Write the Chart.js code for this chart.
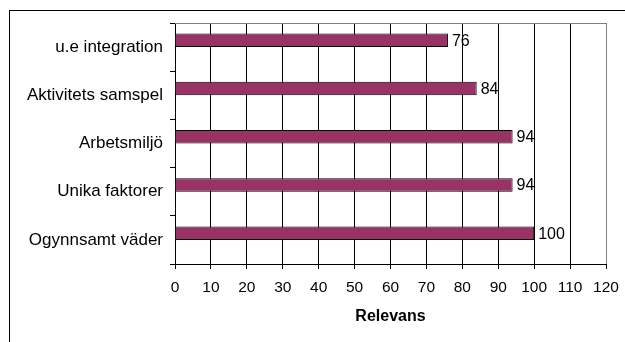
<!DOCTYPE html>
<html>
<head>
<meta charset="utf-8">
<script src="https://cdn.jsdelivr.net/npm/chart.js@4"></script>
<style>
  body { margin: 0; background: #fff; }
  #wrap { position: relative; width: 625px; height: 342px; overflow: hidden; }
  #frame { position: absolute; left: 9px; top: 10px; width: 700px; height: 400px;
           border-left: 1px solid #000; border-top: 1px solid #000; }
  canvas { position: absolute; left: 0; top: 0; }
</style>
</head>
<body>
<div id="wrap">
  <div id="frame"></div>
  <canvas id="relevansChart" width="625" height="342"></canvas>
</div>
<script>
const faktorer = ['u.e integration', 'Aktivitets samspel', 'Arbetsmiljö', 'Unika faktorer', 'Ogynnsamt väder'];
const relevans = [76, 84, 94, 94, 100];
const xTicks = [0, 10, 20, 30, 40, 50, 60, 70, 80, 90, 100, 110, 120];

const fontFamily = '"Liberation Sans", Arial, sans-serif';

// top edge of the plot area is grey, as in the original
const plotBorder = {
    id: 'plotBorder',
    afterDraw(chart) {
        const { ctx, chartArea } = chart;
        ctx.save();
        ctx.strokeStyle = '#808080';
        ctx.lineWidth = 1;
        ctx.beginPath();
        ctx.moveTo(chartArea.left, Math.round(chartArea.top) + 0.5);
        ctx.lineTo(chartArea.right, Math.round(chartArea.top) + 0.5);
        ctx.stroke();
        ctx.restore();
    }
};

const valueLabels = {
    id: 'valueLabels',
    afterDatasetsDraw(chart) {
        const ctx = chart.ctx;
        const meta = chart.getDatasetMeta(0);
        ctx.save();
        ctx.font = '16px ' + fontFamily;
        ctx.fillStyle = '#000';
        ctx.textAlign = 'left';
        ctx.textBaseline = 'middle';
        meta.data.forEach((bar, i) => {
            ctx.fillText(relevans[i], bar.x + 4, bar.y + 1);
        });
        ctx.restore();
    }
};

new Chart(document.getElementById('relevansChart').getContext('2d'), {
    type: 'bar',
    data: {
        labels: faktorer,
        datasets: [{
            label: 'Relevans',
            data: relevans,
            backgroundColor: '#993366',
            borderColor: '#000',
            borderWidth: 1,
            categoryPercentage: 0.56,
            barPercentage: 1
        }, {
            // empty second series, keeps the bars in the upper half of each row
            label: '',
            data: [],
            categoryPercentage: 0.56,
            barPercentage: 1
        }]
    },
    options: {
        indexAxis: 'y',
        responsive: false,
        animation: false,
        layout: { padding: { left: 0, top: 23, right: 19, bottom: 0 } },
        plugins: {
            legend: { display: false },
            tooltip: { enabled: false }
        },
        scales: {
            y: {
                afterFit(scale) { scale.width = 175; },
                ticks: { color: '#000', font: { family: fontFamily, size: 17 }, padding: 7 },
                grid: { drawOnChartArea: false, tickLength: 5, tickColor: '#000' },
                border: { color: '#000' }
            },
            x: {
                min: 0,
                max: 120,
                afterFit(scale) { scale.height = 78; scale.paddingRight = 19; },
                afterBuildTicks(scale) { scale.ticks = xTicks.map(v => ({ value: v })); },
                ticks: { color: '#000', font: { family: fontFamily, size: 15.5 }, padding: 9 },
                grid: {
                    color: c => (c.tick && c.tick.value === 120) ? '#808080' : '#000',
                    tickColor: '#000',
                    tickLength: 5
                },
                border: { color: '#000' },
                title: {
                    display: true,
                    text: 'Relevans',
                    color: '#000',
                    font: { family: fontFamily, size: 16, weight: 'bold' },
                    padding: { top: 0, bottom: 16 }
                }
            }
        }
    },
    plugins: [plotBorder, valueLabels]
});
</script>
</body>
</html>
